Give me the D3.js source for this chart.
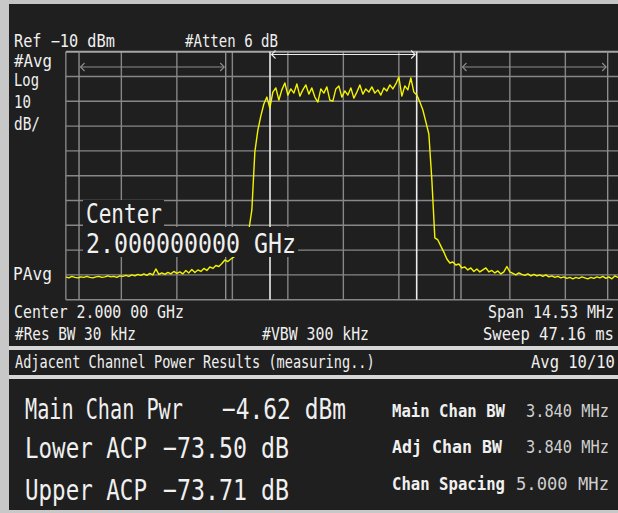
<!DOCTYPE html>
<html>
<head>
<meta charset="utf-8">
<script src="https://cdn.jsdelivr.net/npm/d3@7"></script>
<style>
  html, body { margin: 0; padding: 0; background: #1f1f1f; overflow: hidden; }
  svg text { font-family: "DejaVu Sans Mono", "Liberation Mono", monospace; }
</style>
</head>
<body>
<svg id="screen" width="618" height="513"></svg>
<script>
// Analyzer settings
const refLevelDbm = -10;
const dbPerDiv = 10;
const spanMHz = 14.53;
const gridDivisions = 10;

// Channel layout (offsets from centre, MHz)
const channelOffsetsMHz = [-5, 0, 5];
const channelBwMHz = [3.84, 3.84, 3.84];

// Averaged trace, dBm, one value per sweep point across the span
const traceDbm = [
  -100.8, -101.2, -100.6, -101.0, -101.2, -100.8, -101.0, -100.6, -101.0, -101.2,
  -100.8, -100.6, -101.0, -100.8, -100.4, -100.8, -100.6, -101.0, -100.4, -100.6,
  -100.2, -100.6, -100.0, -100.4, -99.8, -100.2, -99.6, -100.2, -99.4, -100.0,
  -97.6, -99.8, -99.2, -99.8, -99.0, -99.6, -98.6, -99.4, -98.8, -99.6,
  -98.2, -99.2, -97.8, -99.0, -98.0, -98.6, -97.4, -98.2, -96.8, -97.4,
  -96.2, -96.6, -95.4, -94.0, -94.6, -93.6, -92.8, -91.6, -89.2, -87.1,
  -84.7, -81.9, -73.8, -50.4, -41.6, -35.9, -31.1, -28.3, -32.7, -26.3,
  -24.6, -29.5, -25.4, -22.6, -27.5, -25.0, -26.7, -23.0, -27.9, -25.4,
  -23.4, -27.1, -24.6, -28.3, -30.3, -25.0, -26.7, -24.2, -29.5, -29.9,
  -25.0, -23.8, -28.3, -25.8, -27.5, -24.6, -28.7, -26.3, -23.4, -27.1,
  -25.0, -26.3, -24.2, -26.7, -25.4, -27.5, -24.6, -25.8, -23.4, -25.0,
  -23.0, -20.2, -27.9, -23.8, -25.4, -20.6, -26.3, -27.5, -30.3, -33.5,
  -38.3, -43.2, -61.7, -85.1, -85.9, -88.4, -90.8, -93.6, -95.2, -94.8,
  -96.0, -95.6, -97.2, -96.8, -98.0, -97.2, -98.6, -97.6, -98.8, -98.0,
  -97.2, -98.8, -98.2, -99.2, -98.4, -99.6, -98.8, -96.6, -98.8, -99.4,
  -100.0, -99.2, -99.8, -100.2, -99.6, -100.4, -99.8, -100.4, -100.0, -100.6,
  -100.0, -100.8, -100.4, -101.0, -100.6, -101.2, -100.8, -101.4, -101.0, -101.6,
  -101.0, -101.4, -100.8, -101.2, -101.6, -101.0, -101.4, -100.8, -101.2, -100.6,
  -101.4, -100.8, -101.6, -100.4, -101.0, -100.8
];

// Text shown on the display
const leftAnnotations = ["#Avg", "Log", "10", "dB/"];
const footerLeft = ["Center 2.000 00 GHz", "#Res BW 30 kHz"];
const footerMid = ["", "#VBW 300 kHz"];
const footerRight = ["Span 14.53 MHz", "Sweep 47.16 ms"];
const resultLabels = ["Main Chan Pwr", "Lower ACP", "Upper ACP"];
const resultValues = [-4.62, -73.50, -73.71];
const resultUnits = ["dBm", "dB", "dB"];
const setupLabels = ["Main Chan BW", "Adj Chan BW", "Chan Spacing"];
const setupValues = ["3.840 MHz", "3.840 MHz", "5.000 MHz"];

const BG = "#1f1f1f";
const svg = d3.select("#screen");

// Bezel and panel background
svg.append("rect").attr("width", 618).attr("height", 513).attr("fill", BG);
svg.append("rect").attr("x", 0).attr("y", 0).attr("width", 618).attr("height", 4).attr("fill", "#c4c4c4");
svg.append("rect").attr("x", 0).attr("y", 0).attr("width", 9).attr("height", 513).attr("fill", "#c8c8c8");
svg.append("rect").attr("x", 9).attr("y", 346).attr("width", 609).attr("height", 4).attr("fill", "#d6d6d6");
svg.append("rect").attr("x", 9).attr("y", 375).attr("width", 609).attr("height", 4).attr("fill", "#d6d6d6");
svg.append("rect").attr("x", 0).attr("y", 510).attr("width", 618).attr("height", 3).attr("fill", "#c8c8c8");

// Scales
const x = d3.scaleLinear().domain([-spanMHz / 2, spanMHz / 2]).range([65.85, 620.85]);
const y = d3.scaleLinear()
  .domain([refLevelDbm - dbPerDiv * gridDivisions, refLevelDbm])
  .range([299.7, 51.7]);

const plot = svg.append("g");

// Graticule
const gridX = d3.range(gridDivisions + 1).map(i => -spanMHz / 2 + i * spanMHz / gridDivisions);
const gridY = d3.range(gridDivisions + 1).map(i => refLevelDbm - i * dbPerDiv);
plot.selectAll("line.gx").data(gridX).join("line")
  .attr("x1", d => x(d)).attr("x2", d => x(d))
  .attr("y1", y.range()[1]).attr("y2", y.range()[0])
  .attr("stroke", "#878787").attr("stroke-width", 1.4);
plot.selectAll("line.gy").data(gridY).join("line")
  .attr("x1", x.range()[0]).attr("x2", 618)
  .attr("y1", d => y(d)).attr("y2", d => y(d))
  .attr("stroke", d => d === refLevelDbm ? "#a6a6a6" : "#878787")
  .attr("stroke-width", d => d === refLevelDbm ? 2 : 1.4);

// Channel integration limits
const channelEdges = channelOffsetsMHz.map((c, i) => ({
  lo: c - channelBwMHz[i] / 2, hi: c + channelBwMHz[i] / 2, main: c === 0
}));
channelEdges.forEach(ch => {
  const col = ch.main ? "#ececec" : "#8e8e8e";
  [ch.lo, ch.hi].forEach(f => {
    plot.append("line")
      .attr("x1", x(f)).attr("x2", x(f))
      .attr("y1", y.range()[1]).attr("y2", y.range()[0])
      .attr("stroke", col).attr("stroke-width", ch.main ? 1.6 : 1.4);
  });
  // bandwidth arrow
  const ay = ch.main ? 54.5 : 67;
  const x0 = x(ch.lo) + 1.5, x1 = x(ch.hi) - 1.5;
  plot.append("line").attr("x1", x0).attr("x2", x1).attr("y1", ay).attr("y2", ay)
    .attr("stroke", col).attr("stroke-width", 1.1);
  plot.append("path")
    .attr("d", `M${x0 + 4},${ay - 4} L${x0},${ay} L${x0 + 4},${ay + 4} M${x1 - 4},${ay - 4} L${x1},${ay} L${x1 - 4},${ay + 4}`)
    .attr("fill", "none").attr("stroke", col).attr("stroke-width", 1.1);
});

// Trace
const sweepFreq = traceDbm.map((_, i) => -spanMHz / 2 + i * spanMHz / (traceDbm.length - 1));
const line = d3.line().x((d, i) => x(sweepFreq[i])).y(d => y(d));
plot.append("path").datum(traceDbm)
  .attr("d", line)
  .attr("fill", "none").attr("stroke", "#f4f400").attr("stroke-width", 1.4)
  .attr("stroke-linejoin", "round");

// Condensed display text: glyphs squeezed horizontally to the given width
function label(str, xPos, baseY, size, width, opts = {}) {
  const g = svg.append("g");
  const t = g.append("text")
    .attr("x", 0).attr("y", 0)
    .attr("font-size", size)
    .attr("fill", opts.fill || "#f0f0f0")
    .attr("font-weight", opts.bold ? "bold" : "normal")
    .text(str);
  const natural = t.node().getComputedTextLength() || width;
  const sx = width / natural;
  g.attr("transform", `translate(${xPos},${baseY}) scale(${sx},1)`);
  return g;
}

// Centre frequency readout with opaque backing
svg.append("rect").attr("x", 83).attr("y", 200).attr("width", 81).attr("height", 27).attr("fill", BG);
svg.append("rect").attr("x", 83).attr("y", 227).attr("width", 215).attr("height", 30).attr("fill", BG);
label("Center", 86, 223, 27, 76);
label("2.000000000 GHz", 86, 253, 27, 210);

// Header annotations
label(`Ref \u2212${Math.abs(refLevelDbm)} dBm`, 14, 47, 17, 101);
label("#Atten 6 dB", 185, 47, 17, 93);
const annY = [67, 86, 108, 130];
const annW = [38, 25, 17, 26];
leftAnnotations.forEach((s, i) => label(s, 14, annY[i], 17, annW[i]));
label("PAvg", 13, 280, 17, 39);

// Footer annotations
label(footerLeft[0], 14, 318, 17, 170);
label(footerRight[0], 488, 318, 17, 126);
label(footerLeft[1], 15, 340, 17, 121);
label(footerMid[1], 262, 340, 17, 107);
label(footerRight[1], 483, 340, 17, 131);

// Results panel
label("Adjacent Channel Power Results (measuring..)", 15, 368, 17, 360);
label("Avg 10/10", 531, 368, 17, 84);

const resY = [419, 458, 500];
const labelW = [158, 122, 122];
const valX = [222, 163, 163];
const valW = [124, 126, 126];
resultLabels.forEach((s, i) => {
  label(s, 25, resY[i], 29, labelW[i]);
  const v = `\u2212${Math.abs(resultValues[i]).toFixed(2)} ${resultUnits[i]}`;
  label(v, valX[i], resY[i], 29, valW[i]);
});

const setY = [417, 453, 490];
const setLabelW = [113, 110, 113];
const setValX = [526, 526, 516];
const setValW = [83, 83, 93];
setupLabels.forEach((s, i) => {
  label(s, 392, setY[i], 17, setLabelW[i], { bold: true });
  label(setupValues[i], setValX[i], setY[i], 17, setValW[i], { fill: "#cfcfcf" });
});
</script>
</body>
</html>
